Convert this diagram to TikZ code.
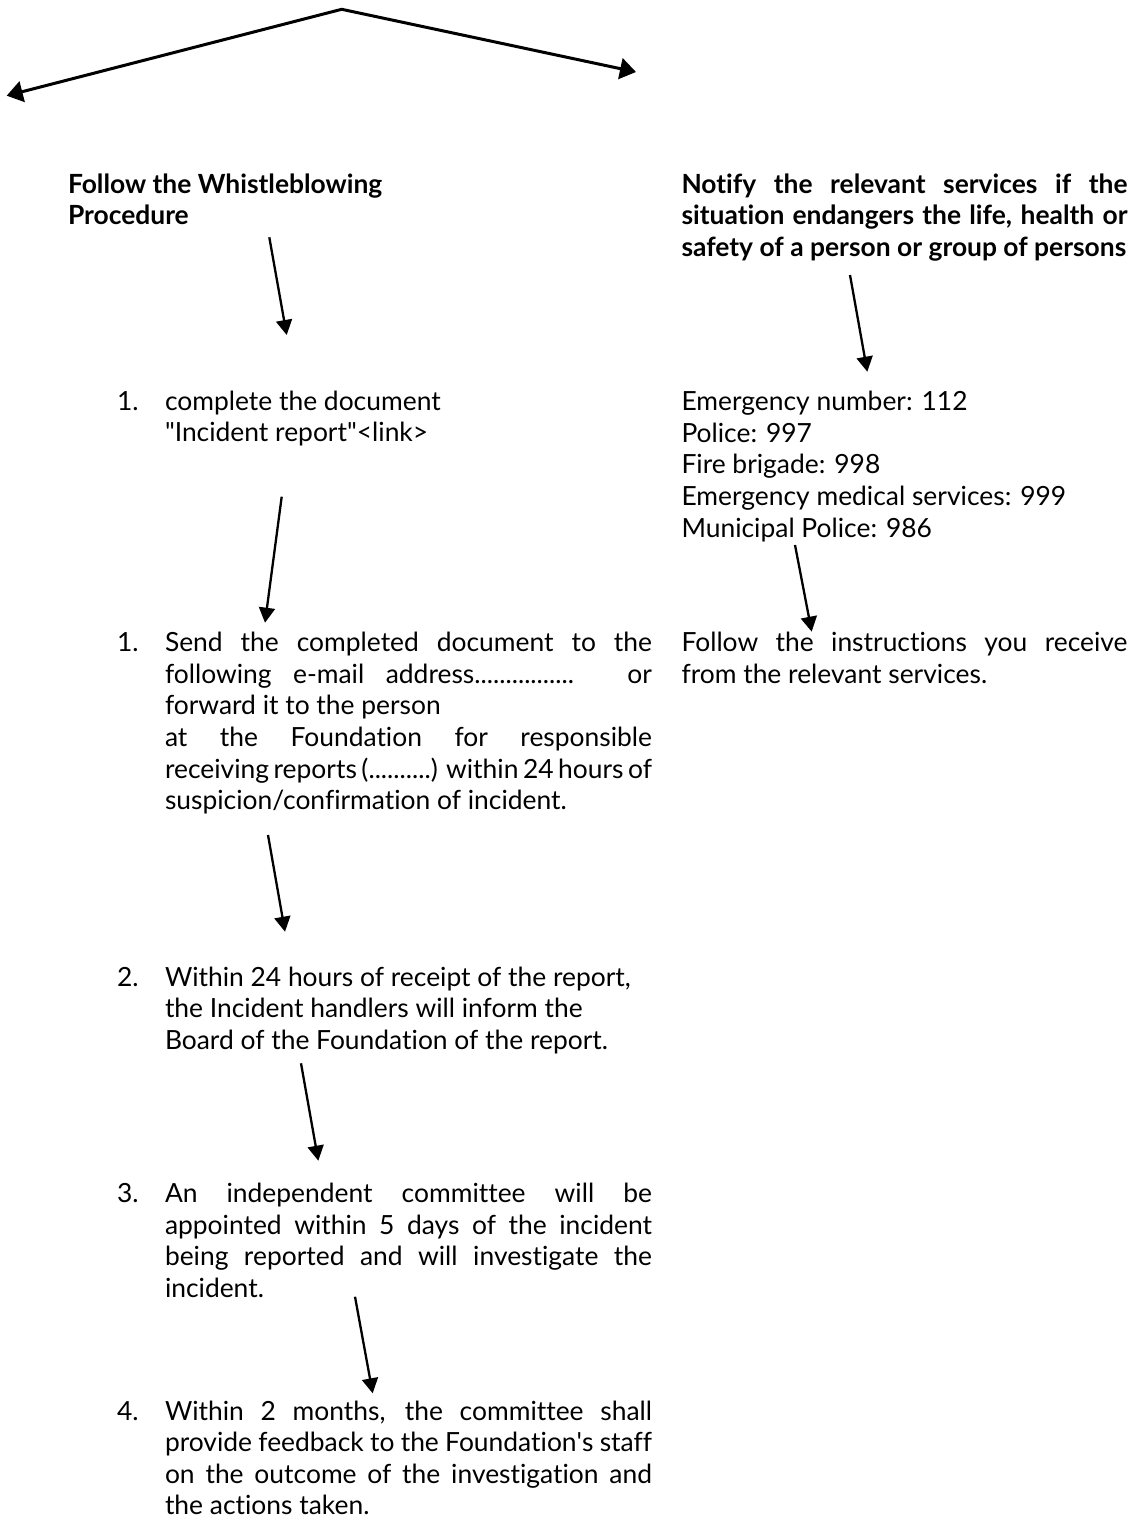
\documentclass[tikz,border=0pt]{standalone}
\usepackage{fontspec}
\setmainfont{Lato}[Ligatures={CommonOff}]
\usetikzlibrary{arrows.meta}
\setlength\parindent{0pt}
\newcommand\mystrut{\rule{0pt}{24pt}}
\newcommand\jleft[1]{\makebox[487pt][s]{#1}}
\newcommand\jright[1]{\makebox[446pt][s]{#1}}
\begin{document}
\begin{tikzpicture}[x=1pt,y=-1pt,
  every node/.style={inner sep=0pt, outer sep=0pt},
  txt/.style={anchor=north west, align=left, font=\fontsize{26.4}{31.6}\selectfont},
  num/.style={anchor=base west, font=\fontsize{26.4}{31.6}\selectfont},
  head/.style={anchor=north west, align=left, font=\fontsize{26.4}{31.6}\selectfont\bfseries},
  flow/.style={line width=2.3pt, -{Triangle[length=15pt,width=16pt]}},
  split/.style={line width=3pt, line join=miter, {Triangle[length=16pt,width=21pt]}-{Triangle[length=16pt,width=21pt]}},
]
\useasboundingbox (0,0) rectangle (1135,1522);

% headings
\node[head] (lhead) at (68,169.3) {\mystrut Follow the Whistleblowing\\ Procedure};
\node[head] (rhead) at (681.5,169.3) {\jright{\mystrut Notify the relevant services if the}\\ \jright{situation endangers the life, health or}\\ safety of a person or group of persons};

% left column
\node[num] (n1) at (117,410) {1.};
\node[txt] (step1) at (165,386) {\mystrut complete the document\\ \textquotedbl Incident report\textquotedbl<link>};

\node[num] (n2) at (117,651.7) {1.};
\node[txt] (step2) at (165,627.7) {\jleft{\mystrut Send the completed document to the}\\
\jleft{following e-mail address................ or}\\
forward it to the person\\
\jleft{at the Foundation for responsible}\\
\jleft{receiving reports (..........) within 24 hours of}\\
suspicion/confirmation of incident.};

\node[num] (n3) at (117,986) {2.};
\node[txt] (step3) at (165,962) {\mystrut Within 24 hours of receipt of the report,\\ the Incident handlers will inform the\\ Board of the Foundation of the report.};

\node[num] (n4) at (117,1202.7) {3.};
\node[txt] (step4) at (165,1178.7) {\jleft{\mystrut An independent committee will be}\\
\jleft{appointed within 5 days of the incident}\\
\jleft{being reported and will investigate the}\\
incident.};

\node[num] (n5) at (117,1420) {4.};
\node[txt] (step5) at (165,1396) {\jleft{\mystrut Within 2 months, the committee shall}\\
\jleft{provide feedback to the Foundation\textquotesingle s staff}\\
\jleft{on the outcome of the investigation and}\\
the actions taken.};

% right column
\node[txt] (numbers) at (681.5,386.7) {\mystrut Emergency number: 112\\ Police: 997\\ Fire brigade: 998\\ Emergency medical services: 999\\ Municipal Police: 986};
\node[txt] (follow) at (681.5,627.7) {\jright{\mystrut Follow the instructions you receive}\\ from the relevant services.};

% connector end points
\coordinate (tl) at (6.7,95.7);
\coordinate (ap) at (341.7,9.3);
\coordinate (tr) at (636,72);
\coordinate (a1s) at (269.3,237.3);
\coordinate (a1e) at (286.7,335);
\coordinate (a2s) at (281.7,496.7);
\coordinate (a2e) at (265,622.7);
\coordinate (a3s) at (268,835);
\coordinate (a3e) at (285,931.7);
\coordinate (a4s) at (301,1063.3);
\coordinate (a4e) at (318.3,1160.7);
\coordinate (a5s) at (355,1296.7);
\coordinate (a5e) at (372.7,1393.3);
\coordinate (b1s) at (850,275);
\coordinate (b1e) at (867.3,371.7);
\coordinate (b2s) at (795,545);
\coordinate (b2e) at (811.7,631.7);

\draw[split] (tl) -- (ap) -- (tr);
\draw[flow] (a1s) -- (a1e);
\draw[flow] (a2s) -- (a2e);
\draw[flow] (a3s) -- (a3e);
\draw[flow] (a4s) -- (a4e);
\draw[flow] (a5s) -- (a5e);
\draw[flow] (b1s) -- (b1e);
\draw[flow] (b2s) -- (b2e);
\end{tikzpicture}
\end{document}
